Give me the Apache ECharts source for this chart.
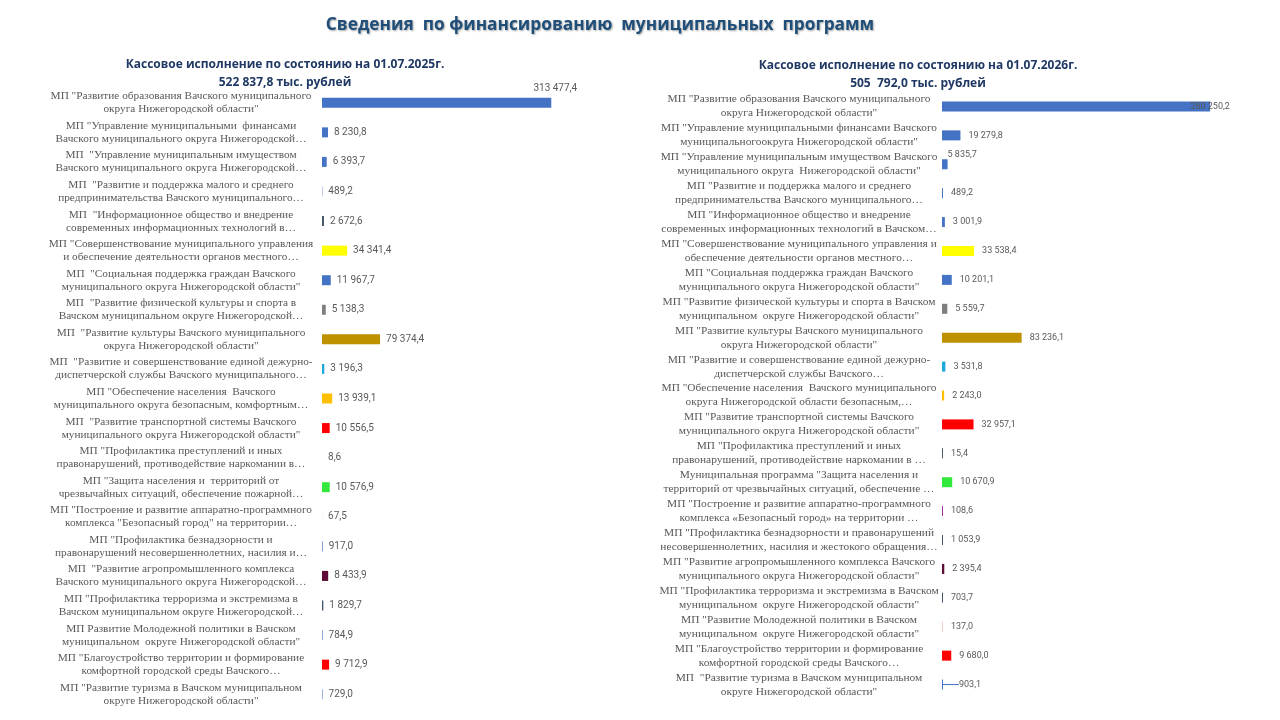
<!DOCTYPE html>
<html>
<head>
<meta charset="utf-8">
<title>Сведения по финансированию муниципальных программ</title>
<script src="https://cdn.jsdelivr.net/npm/echarts@6/dist/echarts.min.js"></script>
<style>
  html, body { margin: 0; padding: 0; background: #fff; }
  #chart { width: 1280px; height: 720px; }
</style>
</head>
<body>
<div id="chart"></div>
<script>
// данные: кассовое исполнение на 01.07.2025 (слева) и 01.07.2026 (справа)
const leftCategories = [
  'МП "Развитие образования Вачского муниципального\nокруга Нижегородской области"',
  'МП "Управление муниципальными  финансами\nВачского муниципального округа Нижегородской…',
  'МП  "Управление муниципальным имуществом\nВачского муниципального округа Нижегородской…',
  'МП  "Развитие и поддержка малого и среднего\nпредпринимательства Вачского муниципального…',
  'МП  "Информационное общество и внедрение\nсовременных информационных технологий в…',
  'МП "Совершенствование муниципального управления\nи обеспечение деятельности органов местного…',
  'МП  "Социальная поддержка граждан Вачского\nмуниципального округа Нижегородской области"',
  'МП  "Развитие физической культуры и спорта в\nВачском муниципальном округе Нижегородской…',
  'МП  "Развитие культуры Вачского муниципального\nокруга Нижегородской области"',
  'МП  "Развитие и совершенствование единой дежурно-\nдиспетчерской службы Вачского муниципального…',
  'МП "Обеспечение населения  Вачского\nмуниципального округа безопасным, комфортным…',
  'МП  "Развитие транспортной системы Вачского\nмуниципального округа Нижегородской области"',
  'МП "Профилактика преступлений и иных\nправонарушений, противодействие наркомании в…',
  'МП "Защита населения и  территорий от\nчрезвычайных ситуаций, обеспечение пожарной…',
  'МП "Построение и развитие аппаратно-программного\nкомплекса "Безопасный город" на территории…',
  'МП "Профилактика безнадзорности и\nправонарушений несовершеннолетних, насилия и…',
  'МП  "Развитие агропромышленного комплекса\nВачского муниципального округа Нижегородской…',
  'МП "Профилактика терроризма и экстремизма в\nВачском муниципальном округе Нижегородской…',
  'МП Развитие Молодежной политики в Вачском\nмуниципальном  округе Нижегородской области"',
  'МП "Благоустройство территории и формирование\nкомфортной городской среды Вачского…',
  'МП "Развитие туризма в Вачском муниципальном\nокруге Нижегородской области"'
];
const leftValues = [313477.4, 8230.8, 6393.7, 489.2, 2672.6, 34341.4, 11967.7, 5138.3, 79374.4, 3196.3,
  13939.1, 10556.5, 8.6, 10576.9, 67.5, 917.0, 8433.9, 1829.7, 784.9, 9712.9, 729.0];
const leftColors = ['#4472C4', '#4472C4', '#4472C4', '#4472C4', '#44546A', '#FFFF00', '#4472C4', '#7F7F7F',
  '#BF9000', '#1FA8DC', '#FFC000', '#FF0000', '#4472C4', '#33E83D', '#4472C4', '#4472C4', '#5E0B35',
  '#44546A', '#4472C4', '#FF0000', '#4472C4'];

const rightCategories = [
  'МП "Развитие образования Вачского муниципального\nокруга Нижегородской области"',
  'МП "Управление муниципальными финансами Вачского\nмуниципальногоокруга Нижегородской области"',
  'МП "Управление муниципальным имуществом Вачского\nмуниципального округа  Нижегородской области"',
  'МП "Развитие и поддержка малого и среднего\nпредпринимательства Вачского муниципального…',
  'МП "Информационное общество и внедрение\nсовременных информационных технологий в Вачском…',
  'МП "Совершенствование муниципального управления и\nобеспечение деятельности органов местного…',
  'МП "Социальная поддержка граждан Вачского\nмуниципального округа Нижегородской области"',
  'МП "Развитие физической культуры и спорта в Вачском\nмуниципальном  округе Нижегородской области"',
  'МП "Развитие культуры Вачского муниципального\nокруга Нижегородской области"',
  'МП "Развитие и совершенствование единой дежурно-\nдиспетчерской службы Вачского…',
  'МП "Обеспечение населения  Вачского муниципального\nокруга Нижегородской области безопасным,…',
  'МП "Развитие транспортной системы Вачского\nмуниципального округа Нижегородской области"',
  'МП "Профилактика преступлений и иных\nправонарушений, противодействие наркомании в …',
  'Муниципальная программа "Защита населения и\nтерриторий от чрезвычайных ситуаций, обеспечение …',
  'МП "Построение и развитие аппаратно-программного\nкомплекса «Безопасный город» на территории …',
  'МП "Профилактика безнадзорности и правонарушений\nнесовершеннолетних, насилия и жестокого обращения…',
  'МП "Развитие агропромышленного комплекса Вачского\nмуниципального округа Нижегородской области"',
  'МП "Профилактика терроризма и экстремизма в Вачском\nмуниципальном  округе Нижегородской области"',
  'МП "Развитие Молодежной политики в Вачском\nмуниципальном  округе Нижегородской области"',
  'МП "Благоустройство территории и формирование\nкомфортной городской среды Вачского…',
  'МП  "Развитие туризма в Вачском муниципальном\nокруге Нижегородской области"'
];
const rightValues = [280250.2, 19279.8, 5835.7, 489.2, 3001.9, 33538.4, 10201.1, 5559.7, 83236.1, 3531.8,
  2243.0, 32957.1, 15.4, 10670.9, 108.6, 1053.9, 2395.4, 703.7, 137.0, 9680.0, 903.1];
const rightColors = ['#4472C4', '#4472C4', '#4472C4', '#4472C4', '#4472C4', '#FFFF00', '#4472C4', '#7F7F7F',
  '#BF9000', '#1FA8DC', '#FFC000', '#FF0000', '#44546A', '#33E83D', '#A0309F', '#44546A', '#5E0B35',
  '#44546A', '#F2D0C8', '#FF0000', '#4472C4'];

// 313477.4 -> "313 477,4"
function fmt(v) {
  let parts = v.toFixed(1).split('.');
  let int = parts[0].replace(/\B(?=(\d{3})+(?!\d))/g, ' ');
  return int + ',' + parts[1];
}

const labelFont = 'Liberation Serif';
const valueFont = 'Roboto';

let leftData = leftValues.map((v, i) => {
  if (i === 0) {
    return {value: v, label: {position: ['100%', -4], align: 'center', verticalAlign: 'bottom', offset: [4, 0]}};
  }
  return v;
});
let rightData = rightValues.map((v, i) => {
  if (i === 0) {
    return {value: v, label: {position: ['100%', '50%'], align: 'center', verticalAlign: 'middle', offset: [-4, 2]}};
  }
  if (i === 2) {
    return {value: v, label: {position: ['100%', 0], align: 'left', verticalAlign: 'bottom', offset: [-2, -1]}};
  }
  if (i === rightValues.length - 1) {
    return {value: v, labelLine: {show: true, lineStyle: {color: '#4472C4', width: 1}}};
  }
  return v;
});

let chart = echarts.init(document.getElementById('chart'));
let option = {
  backgroundColor: '#ffffff',
  animation: false,
  title: [
    {
      text: 'Сведения  по финансированию  муниципальных  программ',
      left: 595, top: 12, textAlign: 'center',
      textStyle: {
        fontFamily: 'Open Sans', fontWeight: 'bold', fontSize: 17.3, color: '#1F4E79',
        textShadowColor: 'rgba(0,0,0,0.35)', textShadowBlur: 2, textShadowOffsetX: 1, textShadowOffsetY: 1
      }
    },
    {
      text: 'Кассовое исполнение по состоянию на 01.07.2025г.\n522 837,8 тыс. рублей',
      left: 280, top: 51, textAlign: 'center',
      textStyle: {fontFamily: 'Open Sans', fontWeight: 'bold', fontSize: 12, lineHeight: 18, color: '#1F3864'}
    },
    {
      text: 'Кассовое исполнение по состоянию на 01.07.2026г.\n505  792,0 тыс. рублей',
      left: 913, top: 52, textAlign: 'center',
      textStyle: {fontFamily: 'Open Sans', fontWeight: 'bold', fontSize: 12, lineHeight: 18, color: '#1F3864'}
    }
  ],
  grid: [
    {left: 322, top: 88, width: 256, height: 621},
    {left: 942, top: 92, width: 287, height: 607}
  ],
  xAxis: [
    {gridIndex: 0, type: 'value', min: 0, max: 350000, show: false},
    {gridIndex: 1, type: 'value', min: 0, max: 300000, show: false}
  ],
  yAxis: [
    {
      gridIndex: 0, type: 'category', inverse: true, data: leftCategories,
      axisLine: {show: false}, axisTick: {show: false}, splitLine: {show: false},
      axisLabel: {
        interval: 0, align: 'center', margin: 141,
        fontFamily: labelFont, fontSize: 11.3, lineHeight: 13, color: '#595959'
      }
    },
    {
      gridIndex: 1, type: 'category', inverse: true, data: rightCategories,
      axisLine: {show: false}, axisTick: {show: false}, splitLine: {show: false},
      axisLabel: {
        interval: 0, align: 'center', margin: 143,
        fontFamily: labelFont, fontSize: 11.4, lineHeight: 14, color: '#595959'
      }
    }
  ],
  series: [
    {
      type: 'bar', xAxisIndex: 0, yAxisIndex: 0, data: leftData, barWidth: 10,
      itemStyle: {color: p => leftColors[p.dataIndex]},
      label: {
        show: true, position: 'right', distance: 6,
        fontFamily: valueFont, fontSize: 10, color: '#595959',
        formatter: p => fmt(p.value)
      }
    },
    {
      type: 'bar', xAxisIndex: 1, yAxisIndex: 1, data: rightData, barWidth: 10, barMinHeight: 1,
      itemStyle: {color: p => rightColors[p.dataIndex]},
      label: {
        show: true, position: 'right', distance: 8,
        fontFamily: valueFont, fontSize: 9, color: '#595959',
        formatter: p => fmt(p.value)
      },
      labelLayout: function(params) {
        if (params.dataIndex === rightValues.length - 1) {
          return {dx: 8};
        }
        return {};
      }
    }
  ]
};
chart.setOption(option);
window.addEventListener('resize', () => {
  chart.resize();
});
</script>
</body>
</html>
